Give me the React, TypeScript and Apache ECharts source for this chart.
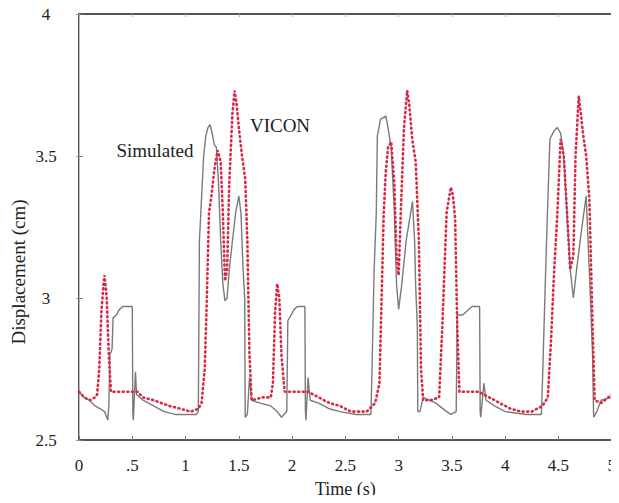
import React, { useEffect, useRef } from "react";
import * as echarts from "echarts";

// ---- Data ----
const xTicks = [0, 0.5, 1, 1.5, 2, 2.5, 3, 3.5, 4, 4.5, 5];
const yTicks = [2.5, 3, 3.5, 4];

const simTime = [
  0, 0.05, 0.1, 0.15, 0.2, 0.24, 0.27, 0.28, 0.29, 0.31, 0.32, 0.35, 0.38, 0.41, 0.5,
  0.505, 0.51, 0.53, 0.54, 0.6, 0.7, 0.8, 0.9, 1.0, 1.1, 1.12, 1.13, 1.15, 1.17, 1.19,
  1.21, 1.23, 1.25, 1.27, 1.29, 1.31, 1.33, 1.35, 1.37, 1.39, 1.41, 1.44, 1.47, 1.5, 1.52,
  1.54, 1.555, 1.56, 1.58, 1.6, 1.62, 1.7, 1.8, 1.86, 1.9, 1.95, 1.96, 1.99, 2.02, 2.05,
  2.12, 2.125, 2.13, 2.15, 2.17, 2.25, 2.35, 2.45, 2.6, 2.74, 2.75, 2.77, 2.79, 2.8, 2.83,
  2.88, 2.9, 2.93, 2.96, 2.98, 3.0, 3.03, 3.07, 3.13, 3.15, 3.16, 3.175, 3.18, 3.2, 3.23,
  3.35, 3.45, 3.49, 3.54, 3.55, 3.6, 3.69, 3.76, 3.765, 3.77, 3.8, 3.82, 3.9, 4.0, 4.2,
  4.34, 4.35, 4.38, 4.4, 4.42, 4.46, 4.49, 4.52, 4.55, 4.58, 4.61, 4.64, 4.67, 4.72, 4.76,
  4.78, 4.8, 4.82, 4.83, 4.86, 4.9, 5.0,
];
const simDisp = [
  2.67, 2.65, 2.64, 2.62, 2.61, 2.6, 2.57, 2.62, 2.8, 2.82, 2.93, 2.94, 2.96, 2.97, 2.97,
  2.6, 2.57, 2.74, 2.66, 2.64, 2.62, 2.6, 2.59, 2.59, 2.59, 2.6, 3.2, 3.35, 3.5, 3.57,
  3.6, 3.61, 3.58, 3.54, 3.53, 3.4, 3.2, 3.05, 2.99, 3.0, 3.1, 3.2, 3.3, 3.36, 3.3,
  3.1, 3.0, 2.58, 2.59, 2.72, 2.64, 2.63, 2.62, 2.6, 2.58, 2.6, 2.92, 2.94, 2.96, 2.97,
  2.97, 2.6, 2.57, 2.72, 2.64, 2.63, 2.61, 2.6, 2.59, 2.59, 2.75, 3.1, 3.3, 3.57, 3.63,
  3.64, 3.6, 3.53, 3.3, 3.05, 2.96, 3.05, 3.2, 3.34, 3.2, 3.04, 2.9, 2.6, 2.6, 2.65,
  2.63, 2.6, 2.59, 2.6, 2.94, 2.94, 2.97, 2.97, 2.6, 2.58, 2.7, 2.64, 2.62, 2.6, 2.59,
  2.59, 2.71, 3.1, 3.34, 3.56, 3.59, 3.6, 3.58, 3.5, 3.3, 3.1, 3.0, 3.1, 3.25, 3.36,
  3.18, 3.0, 2.8, 2.58, 2.6, 2.64, 2.65,
];

const viconTime = [
  0, 0.05, 0.1, 0.15, 0.17, 0.19, 0.21, 0.23, 0.24, 0.26, 0.28, 0.3, 0.4, 0.55, 0.6,
  0.7, 0.85, 0.95, 1.05, 1.12, 1.15, 1.18, 1.2, 1.22, 1.24, 1.27, 1.3, 1.33, 1.35, 1.37,
  1.39, 1.41, 1.44, 1.46, 1.48, 1.5, 1.53, 1.56, 1.58, 1.6, 1.62, 1.72, 1.8, 1.82, 1.84,
  1.86, 1.88, 1.9, 1.93, 2.05, 2.15, 2.25, 2.35, 2.45, 2.55, 2.7, 2.78, 2.82, 2.84, 2.86,
  2.88, 2.9, 2.93, 2.96, 2.98, 3.0, 3.02, 3.05, 3.08, 3.1, 3.13, 3.16, 3.19, 3.21, 3.23,
  3.3, 3.38, 3.41, 3.45, 3.49, 3.51, 3.53, 3.55, 3.57, 3.65, 3.75, 3.85, 3.95, 4.05, 4.15,
  4.25, 4.35, 4.4, 4.43, 4.46, 4.49, 4.52, 4.55, 4.58, 4.61, 4.64, 4.66, 4.69, 4.71, 4.73,
  4.76, 4.79, 4.82, 4.84, 4.9, 5.0,
];
const viconDisp = [
  2.67, 2.65, 2.64, 2.65, 2.66, 2.75, 2.95, 3.05, 3.08, 3.0, 2.8, 2.67, 2.67, 2.67, 2.65,
  2.64, 2.62, 2.61, 2.6, 2.61, 2.63, 2.75, 3.0, 3.3, 3.35, 3.45, 3.52, 3.48, 3.3, 3.06,
  3.1, 3.4, 3.65, 3.73, 3.68, 3.6, 3.5, 3.42, 3.2, 2.8, 2.64, 2.65, 2.65, 2.7, 2.95,
  3.05, 3.0, 2.8, 2.67, 2.67, 2.67, 2.65, 2.63, 2.62, 2.6, 2.6, 2.63, 2.7, 3.0, 3.3,
  3.45, 3.53, 3.55, 3.4, 3.15, 3.08, 3.3, 3.6, 3.73, 3.68, 3.55, 3.48, 3.2, 2.75, 2.64,
  2.64, 2.65, 2.9, 3.3, 3.39, 3.36, 3.28, 2.9, 2.67, 2.67, 2.67, 2.65, 2.63, 2.61, 2.6,
  2.6, 2.62, 2.65, 2.85, 3.1, 3.3, 3.56, 3.5, 3.3, 3.1, 3.15, 3.5, 3.71, 3.65, 3.58,
  3.5, 3.35, 2.9, 2.64, 2.63, 2.66,
];

const SERIF = "Liberation Serif, DejaVu Serif, serif";

export default function App() {
  const ref = useRef<HTMLDivElement>(null);

  useEffect(() => {
    if (!ref.current) return;
    const chart = echarts.init(ref.current, undefined, { renderer: "svg" });
    const simData = simTime.map((t, i) => [t, simDisp[i]]);
    const viconData = viconTime.map((t, i) => [t, viconDisp[i]]);
    const fmtX = (v: number) => (v === 0.5 ? ".5" : String(v));

    chart.setOption({
      animation: false,
      backgroundColor: "#ffffff",
      textStyle: { fontFamily: SERIF },
      grid: { left: 79, right: 1, top: 14, bottom: 61, containLabel: false },
      xAxis: [
        {
          type: "value",
          min: xTicks[0],
          max: xTicks[xTicks.length - 1],
          interval: 0.5,
          position: "bottom",
          name: "Time (s)",
          nameLocation: "middle",
          nameGap: 40,
          nameTextStyle: { fontFamily: SERIF, fontSize: 18, color: "#222" },
          axisLine: { show: true, lineStyle: { color: "#555", width: 2 } },
          axisTick: { show: true, inside: true, length: 4, lineStyle: { color: "#777" } },
          axisLabel: {
            show: true,
            formatter: fmtX,
            fontFamily: SERIF,
            fontSize: 17,
            color: "#222",
            margin: 17,
            showMinLabel: true,
            showMaxLabel: true,
          },
          splitLine: { show: false },
        },
        {
          type: "value",
          min: xTicks[0],
          max: xTicks[xTicks.length - 1],
          interval: 0.5,
          position: "top",
          axisLine: { show: true, lineStyle: { color: "#555", width: 2 } },
          axisTick: { show: true, inside: true, length: 3, lineStyle: { color: "#aaa" } },
          axisLabel: { show: false },
          splitLine: { show: false },
        },
      ],
      yAxis: [
        {
          type: "value",
          min: yTicks[0],
          max: yTicks[yTicks.length - 1],
          interval: 0.5,
          position: "left",
          axisLine: { show: true, lineStyle: { color: "#555", width: 2 } },
          axisTick: { show: true, inside: true, length: 4, lineStyle: { color: "#777" } },
          axisLabel: {
            show: true,
            formatter: (v: number) => String(v),
            fontFamily: SERIF,
            fontSize: 17,
            color: "#222",
            align: "center",
            margin: 33,
            showMinLabel: true,
            showMaxLabel: true,
          },
          splitLine: { show: false },
        },
        {
          type: "value",
          min: yTicks[0],
          max: yTicks[yTicks.length - 1],
          interval: 0.5,
          position: "right",
          axisLine: { show: true, lineStyle: { color: "#bbb", width: 1 } },
          axisTick: { show: true, inside: true, length: 3, lineStyle: { color: "#999" } },
          axisLabel: { show: false },
          splitLine: { show: false },
        },
      ],
      graphic: [
        {
          type: "text",
          x: 18,
          y: 272,
          rotation: Math.PI / 2,
          style: {
            text: "Displacement (cm)",
            fontFamily: SERIF,
            fontSize: 19,
            fill: "#222",
            textAlign: "center",
            textVerticalAlign: "middle",
          },
        },
        {
          type: "text",
          x: 155,
          y: 150,
          style: {
            text: "Simulated",
            fontFamily: SERIF,
            fontSize: 19,
            fill: "#222",
            textAlign: "center",
            textVerticalAlign: "middle",
          },
        },
        {
          type: "text",
          x: 280,
          y: 125,
          style: {
            text: "VICON",
            fontFamily: SERIF,
            fontSize: 19,
            fill: "#222",
            textAlign: "center",
            textVerticalAlign: "middle",
          },
        },
      ],
      series: [
        {
          name: "Simulated",
          type: "line",
          data: simData,
          showSymbol: false,
          smooth: false,
          lineStyle: { color: "#7a7a7a", width: 1.4 },
          z: 2,
        },
        {
          name: "VICON",
          type: "line",
          data: viconData,
          showSymbol: false,
          smooth: false,
          lineStyle: { color: "#d42a44", width: 2.6, type: [1, 3.6], cap: "round" },
          z: 3,
        },
      ],
    });

    return () => chart.dispose();
  }, []);

  return <div ref={ref} style={{ width: 619, height: 503, margin: -8 }} />;
}
